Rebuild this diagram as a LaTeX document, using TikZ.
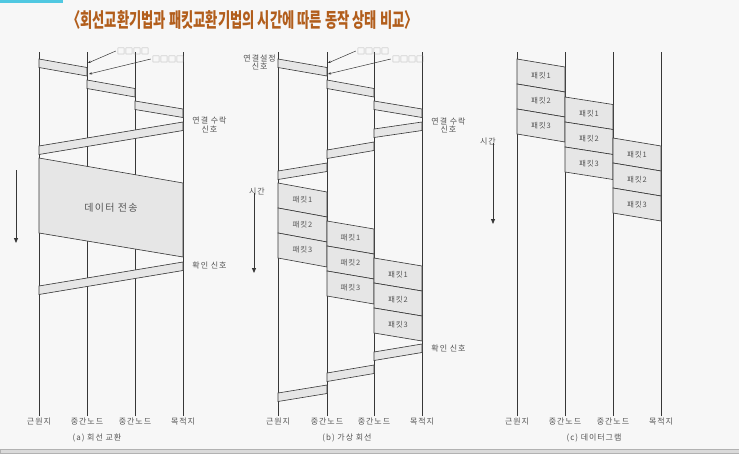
\documentclass[tikz,border=0pt]{standalone}
\usepackage{fontspec}
\usepackage{graphicx}
\usepackage{tikz}
\usetikzlibrary{arrows.meta}
\newfontfamily\krfont{Noto Sans CJK KR}[LetterSpace=12]
\newfontfamily\titlefont{Noto Sans CJK KR}
\definecolor{cTitle}{RGB}{178,94,28}
\definecolor{cLine}{RGB}{55,55,55}
\definecolor{cBand}{RGB}{230,230,230}
\definecolor{cText}{RGB}{85,85,85}
\definecolor{cBack}{RGB}{247,247,247}
\definecolor{cCyan}{RGB}{80,200,225}
\definecolor{cFoot}{RGB}{218,218,218}
\tikzset{
	life/.style    ={draw=cLine, line width=0.9pt},
	band/.style    ={draw=cLine, line width=0.6pt, fill=cBand},
	endlbl/.style  ={font=\krfont\fontsize{8}{9}\selectfont, text=cText, inner sep=1pt},
	caplbl/.style  ={font=\krfont\fontsize{8}{9}\selectfont, text=cText, inner sep=1pt},
	note/.style    ={font=\krfont\fontsize{8}{8.5}\selectfont, text=cText, align=center, inner sep=1pt},
	pktlbl/.style  ={font=\krfont\fontsize{7.5}{8}\selectfont, text=cText, inner sep=0pt},
	boxlbl/.style  ={font=\titlefont\fontsize{8}{8}\selectfont, text=gray!85, inner sep=1pt},
	ptr/.style     ={-{Stealth[length=3pt,width=2.5pt]}, draw=cLine, line width=0.5pt},
	timearrow/.style={-{Triangle[length=5pt,width=4pt]}, draw=cLine, line width=0.8pt},
}
\newcommand{\band}[4]{\filldraw[band] (#1,#2) -- (#3,#4) -- (#3,#4+8.5) -- (#1,#2+8.5) -- cycle;}
\newcommand{\pkts}[5]{%
	\foreach \k in {1,2,3} {
		\filldraw[band] (#1,{#2+25*(\k-1)}) -- (#3,{#4+25*(\k-1)}) -- (#3,{#4+25*\k}) -- (#1,{#2+25*\k}) -- cycle;
		\node[pktlbl] (#5\k) at ({(#1+#3)/2},{(#2+#4)/2+25*\k-12.5}) {패킷\k};
	}}

\begin{document}
\begin{tikzpicture}[x=1pt, y=-1pt]
	\useasboundingbox (0,0) rectangle (739,453);
	\fill[cBack] (0,0) rectangle (739,453);
	\fill[cCyan] (0,0) rectangle (63,2.5);
	\filldraw[fill=cFoot, draw=gray!60] (0,449) rectangle (739,453);
	\node[text=cTitle, inner sep=0pt] (title) at (242.5,20)
		{\scalebox{0.7}[1.05]{\titlefont\bfseries\fontsize{19}{19}\selectfont 〈회선교환기법과 패킷교환기법의 시간에 따른 동작 상태 비교〉}};

	\foreach \p/\xa/\xb/\xc/\xd in {a/39/87/135/183, b/278/327/374/422, c/517/565/613/661} {
		\node[endlbl] (\p1) at (\xa,421) {근원지};
		\node[endlbl] (\p2) at (\xb,421) {중간노드};
		\node[endlbl] (\p3) at (\xc,421) {중간노드};
		\node[endlbl] (\p4) at (\xd,421) {목적지};
		\foreach \i in {1,...,4} \draw[life] (\p\i.north) -- (\p\i.north |- 0,52);
	}
	\node[caplbl] (capa) at (97,438) {(a) 회선 교환};
	\node[caplbl] (capb) at (347,438) {(b) 가상 회선};
	\node[caplbl] (capc) at (594,438) {(c) 데이터그램};

	% (a)
	\band{39}{59}{87}{67.5}
	\band{87}{80}{135}{88.5}
	\band{135}{101}{183}{109}
	\band{183}{122}{39}{146}
	\filldraw[band] (39,158) -- (183,183) -- (183,257) -- (39,233) -- cycle;
	\node[font=\krfont\fontsize{10}{10}\selectfont, text=cText] (data) at (111,208) {데이터 전송};
	\band{183}{262}{39}{286}
	\node[boxlbl] (da1) at (133,51) {□□□□};
	\node[boxlbl] (da2) at (168,59) {□□□□};
	\coordinate (ta1) at (88,63);
	\coordinate (ta2) at (89,74);
	\draw[ptr] (da1.west) -- (ta1);
	\draw[ptr] (da2.west) -- (ta2);
	\node[note] (acca) at (209.5,125) {연결 수락\\신호};
	\node[note] (acka) at (209.5,265) {확인 신호};
	\coordinate (tsa) at (16,170);
	\coordinate (tea) at (16,243);
	\draw[timearrow] (tsa) -- (tea);

	% (b)
	\band{278}{59}{327}{67.5}
	\band{327}{80}{374}{88.5}
	\band{374}{101}{422}{109}
	\band{422}{122}{374}{129}
	\band{374}{142}{327}{150}
	\band{327}{163}{278}{171}
	\pkts{278}{183}{327}{192}{pb1}
	\pkts{327}{221}{374}{229}{pb2}
	\pkts{374}{258}{422}{266}{pb3}
	\band{422}{344}{374}{352}
	\band{374}{365}{327}{373}
	\band{327}{385}{278}{393}
	\node[note, anchor=east] (setb) at (277,62.5) {연결설정\\신호};
	\node[boxlbl] (db1) at (373,51) {□□□□};
	\node[boxlbl] (db2) at (408,59) {□□□□};
	\coordinate (tb1) at (328,63);
	\coordinate (tb2) at (328,74);
	\draw[ptr] (db1.west) -- (tb1);
	\draw[ptr] (db2.west) -- (tb2);
	\node[note] (accb) at (448.5,125.5) {연결 수락\\신호};
	\node[note] (ackb) at (448.5,348) {확인 신호};
	\node[note] (timeb) at (257,192) {시간};
	\coordinate (teb) at (254,273);
	\draw[timearrow] (timeb.south -| teb) ++(0,-4) -- (teb);

	% (c)
	\pkts{517}{59}{565}{67}{pc1}
	\pkts{565}{97}{613}{104.5}{pc2}
	\pkts{613}{138}{661}{146}{pc3}
	\node[note] (timec) at (488,142) {시간};
	\coordinate (tec) at (493,224);
	\draw[timearrow] (timec.south -| tec) ++(0,-4) -- (tec);
\end{tikzpicture}
\end{document}
